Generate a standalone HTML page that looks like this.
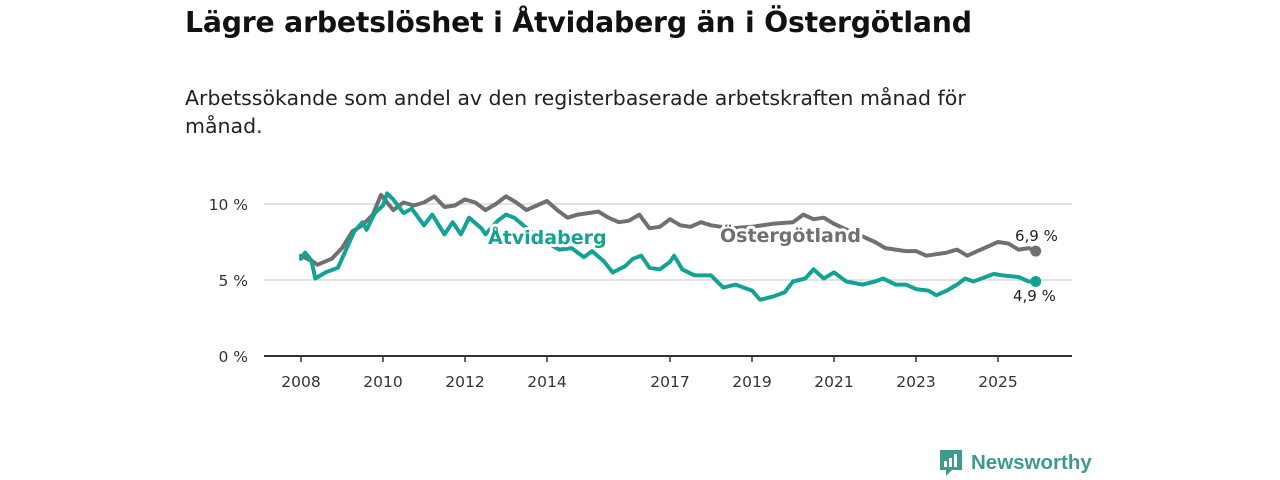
<!DOCTYPE html>
<html><head><meta charset="utf-8">
<style>
body{margin:0;width:1280px;height:480px;background:#fff;font-family:"DejaVu Sans","Liberation Sans",sans-serif;overflow:hidden;position:relative}
#title{position:absolute;left:185px;top:6px;font-size:28.3px;font-weight:bold;color:#111;margin:0;letter-spacing:-0.2px}
#sub{position:absolute;left:185px;top:84px;width:860px;font-size:20.5px;line-height:28px;color:#222}
svg{position:absolute;left:0;top:0}
</style></head><body>
<h1 id="title">Lägre arbetslöshet i Åtvidaberg än i Östergötland</h1>
<div id="sub">Arbetssökande som andel av den registerbaserade arbetskraften månad för månad.</div>
<svg id="chart" width="1280" height="480"></svg>
<script>
const yTicks=[0,5,10];
const xTicks=[2008,2010,2012,2014,2017,2019,2021,2023,2025];
const ostT=[2008.0,2008.3,2008.4,2008.75,2009.0,2009.25,2009.5,2009.75,2009.95,2010.25,2010.5,2010.75,2011.0,2011.25,2011.5,2011.75,2012.0,2012.25,2012.5,2012.75,2013.0,2013.25,2013.5,2013.75,2014.0,2014.25,2014.5,2014.75,2015.0,2015.25,2015.5,2015.75,2016.0,2016.25,2016.5,2016.75,2017.0,2017.25,2017.5,2017.75,2018.0,2018.5,2019.0,2019.5,2020.0,2020.25,2020.5,2020.75,2021.0,2021.4,2021.75,2022.0,2022.25,2022.5,2022.75,2023.0,2023.25,2023.5,2023.75,2024.0,2024.25,2024.5,2024.75,2025.0,2025.25,2025.5,2025.75,2025.92];
const ostV=[6.6,6.2,6.0,6.4,7.1,8.2,8.6,9.3,10.6,9.6,10.1,9.9,10.1,10.5,9.8,9.9,10.3,10.1,9.6,10.0,10.5,10.1,9.6,9.9,10.2,9.6,9.1,9.3,9.4,9.5,9.1,8.8,8.9,9.3,8.4,8.5,9.0,8.6,8.5,8.8,8.6,8.4,8.5,8.7,8.8,9.3,9.0,9.1,8.7,8.2,7.8,7.5,7.1,7.0,6.9,6.9,6.6,6.7,6.8,7.0,6.6,6.9,7.2,7.5,7.4,7.0,7.1,6.9];
const atvT=[2008.0,2008.1,2008.25,2008.35,2008.6,2008.9,2009.1,2009.3,2009.5,2009.6,2009.8,2010.0,2010.1,2010.25,2010.5,2010.7,2011.0,2011.2,2011.5,2011.7,2011.9,2012.1,2012.4,2012.5,2012.8,2013.0,2013.2,2013.6,2014.1,2014.3,2014.6,2014.9,2015.1,2015.4,2015.6,2015.9,2016.1,2016.3,2016.5,2016.75,2017.0,2017.1,2017.3,2017.6,2018.0,2018.3,2018.6,2019.0,2019.2,2019.5,2019.8,2020.0,2020.3,2020.5,2020.75,2021.0,2021.3,2021.7,2022.0,2022.2,2022.5,2022.75,2023.0,2023.3,2023.5,2023.75,2024.0,2024.2,2024.4,2024.6,2024.9,2025.1,2025.5,2025.75,2025.92];
const atvV=[6.4,6.8,6.3,5.1,5.5,5.8,7.0,8.2,8.8,8.3,9.4,9.9,10.7,10.3,9.4,9.7,8.6,9.3,8.0,8.8,8.0,9.1,8.4,8.0,8.9,9.3,9.1,8.2,7.3,7.0,7.1,6.5,6.9,6.2,5.5,5.9,6.4,6.6,5.8,5.7,6.2,6.6,5.7,5.3,5.3,4.5,4.7,4.3,3.7,3.9,4.2,4.9,5.1,5.7,5.1,5.5,4.9,4.7,4.9,5.1,4.7,4.7,4.4,4.3,4.0,4.3,4.7,5.1,4.9,5.1,5.4,5.3,5.2,4.9,4.9];
const NS="http://www.w3.org/2000/svg";
const svg=document.getElementById('chart');
const x=t=>301+(t-2008)*41;
const y=v=>356-v*15.2;
function mk(tag,attrs,txt){const e=document.createElementNS(NS,tag);for(const k in attrs)e.setAttribute(k,attrs[k]);if(txt!==undefined)e.textContent=txt;svg.appendChild(e);return e;}
yTicks.forEach(v=>{
  if(v>0){const g=mk('line',{x1:264,x2:1072,y1:y(v),y2:y(v),stroke:'#d9d9d9','stroke-width':1.5});
  
  }
  const t=mk('text',{x:248,y:y(v)+6,'text-anchor':'end','font-size':15.5,fill:'#333'},v+' %');
  
  
});
const ax=mk('line',{x1:264,x2:1072,y1:356,y2:356,stroke:'#333','stroke-width':2});


xTicks.forEach(yr=>{
  const tk=mk('line',{x1:x(yr),x2:x(yr),y1:356,y2:362,stroke:'#333','stroke-width':1.5});
  
  
  const t=mk('text',{x:x(yr),y:387,'text-anchor':'middle','font-size':15.5,fill:'#333'},String(yr));
  
  
});
function line(T,V,color,name){
  const d=T.map((t,i)=>(i?'L':'M')+x(t).toFixed(1)+','+y(V[i]).toFixed(1)).join('');
  const p=mk('path',{d:d,fill:'none',stroke:color,'stroke-width':4,'stroke-linejoin':'round','stroke-linecap':'round'});
  
  
  const c=mk('circle',{cx:x(T[T.length-1]),cy:y(V[V.length-1]),r:5.5,fill:color});
  
  
}
line(ostT,ostV,'#707070','ostergotland-line');
line(atvT,atvV,'#12a394','atvidaberg-line');
function label(tx,ty,txt,color,name,size,weight){
  const t=mk('text',{x:tx,y:ty,'font-size':size,'font-weight':weight,fill:color,stroke:'#fff','stroke-width':6,'paint-order':'stroke','stroke-linejoin':'round'},txt);
  
  
}
label(488,244,'Åtvidaberg','#12a394','atvidaberg-label',19,'bold');
label(720,242,'Östergötland','#707070','ostergotland-label',19,'bold');
label(1015,241,String(ostV[ostV.length-1]).replace('.',',')+' %','#222','ostergotland-value',15,'normal');
label(1013,301,String(atvV[atvV.length-1]).replace('.',',')+' %','#222','atvidaberg-value',15,'normal');
</script>
<div style="position:absolute;left:938px;top:448px;height:30px;display:flex;align-items:center">
<svg width="26" height="30" viewBox="0 0 26 30" style="position:static"><path d="M2 2h22v20H14l-6 6v-6H2z" fill="#3e9b8c"/><rect x="6" y="13" width="3" height="6" fill="#fff"/><rect x="11" y="10" width="3" height="9" fill="#fff"/><rect x="16" y="6" width="3" height="13" fill="#fff"/></svg>
<span style="margin-left:7px;font-size:20.5px;font-weight:bold;color:#3e9b8c;font-family:'Liberation Sans',sans-serif">Newsworthy</span>
</div>
</body></html>
